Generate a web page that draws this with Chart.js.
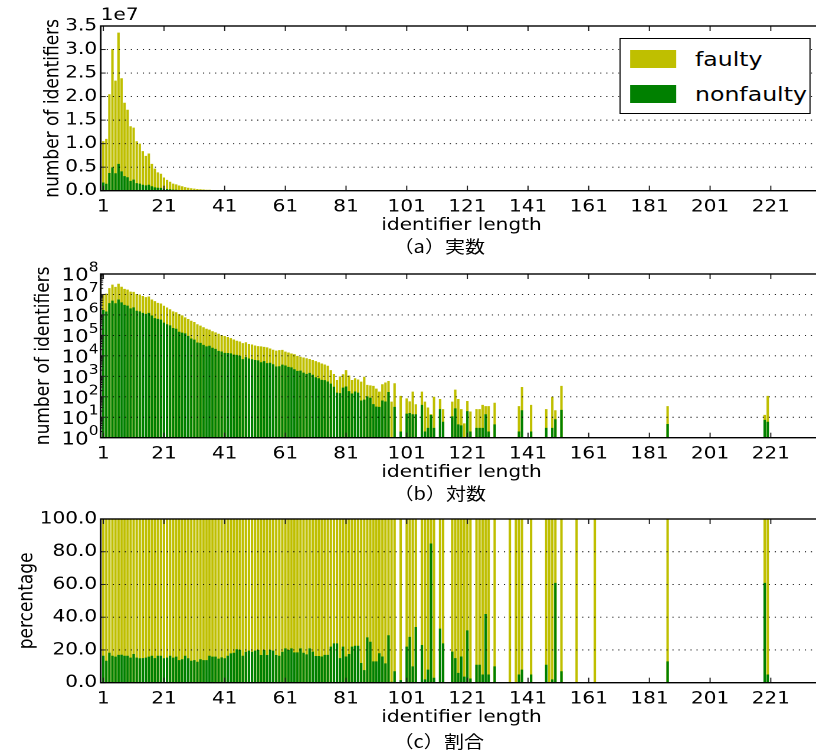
<!DOCTYPE html>
<html lang="ja">
<head>
    <meta charset="UTF-8">
    <title>identifier length</title>
    <script src="https://cdn.jsdelivr.net/npm/chart.js"></script>
    <style>
        * {
            margin: 0;
            padding: 0;
            box-sizing: border-box;
        }

        html, body {
            width: 816px;
            height: 753px;
            overflow: hidden;
            background: #fff;
        }

        /* the figure is stretched sideways, so everything is laid out narrow and scaled */
        .stage {
            position: absolute;
            left: 0;
            top: 0;
            width: 705px;
            height: 753px;
            transform: scaleX(1.18);
            transform-origin: 0 0;
            font-family: 'DejaVu Sans', sans-serif;
        }

        .stage canvas {
            position: absolute;
            left: 0;
        }

        .caption {
            position: absolute;
            left: 333.5px;
            font-family: 'Noto Sans CJK JP', sans-serif;
            font-size: 17px;
            line-height: 20px;
            color: #000;
            white-space: nowrap;
        }

        .legend {
            position: absolute;
            left: 524.6px;
            top: 38px;
            width: 162.7px;
            height: 76px;
            border: 1.4px solid #000;
            background: #fff;
        }

        .legend .item {
            position: absolute;
            left: 8px;
            height: 24px;
            font-size: 20px;
            line-height: 24px;
            white-space: nowrap;
        }

        .legend .swatch {
            display: inline-block;
            width: 39.8px;
            height: 18px;
            vertical-align: -2px;
            margin-right: 15.6px;
        }
    </style>
</head>
<body>
    <div class="stage">
        <canvas id="chartA" width="705" height="236" style="top:0"></canvas>
        <canvas id="chartB" width="705" height="231" style="top:252px"></canvas>
        <canvas id="chartC" width="705" height="228" style="top:500px"></canvas>
        <div class="legend" id="legend"></div>
        <div class="caption" style="top:236px">（a）実数</div>
        <div class="caption" style="top:483px">（b）対数</div>
        <div class="caption" style="top:731px">（c）割合</div>
    </div>

    <script>
        const lengths = [
            1, 2, 3, 4, 5, 6, 7, 8, 9, 10, 11, 12, 13, 14, 15, 16, 17, 18, 19, 20,
            21, 22, 23, 24, 25, 26, 27, 28, 29, 30, 31, 32, 33, 34, 35, 36, 37, 38, 39, 40,
            41, 42, 43, 44, 45, 46, 47, 48, 49, 50, 51, 52, 53, 54, 55, 56, 57, 58, 59, 60,
            61, 62, 63, 64, 65, 66, 67, 68, 69, 70, 71, 72, 73, 74, 75, 76, 77, 78, 79, 80,
            81, 82, 83, 84, 85, 86, 87, 88, 89, 90, 91, 92, 93, 94, 95, 96, 97, 99,
            101, 102, 103, 104, 106, 107, 108, 109, 110, 112, 113, 116, 117, 118, 119, 120,
            121, 122, 124, 125, 126, 127, 128, 130, 135, 137, 138, 139, 142, 147, 148, 149,
            150, 152, 157, 163, 187, 219, 220
        ];

        // all identifiers of each length (top of the yellow bar)
        const totalCount = [
            1.05e7, 1.10e7, 2.05e7, 3.01e7, 2.34e7, 3.36e7, 2.39e7, 1.87e7, 1.72e7, 1.37e7,
            1.34e7, 1.05e7, 1.00e7, 8.4e6, 7.4e6, 7.9e6, 5.7e6, 4.7e6, 3.9e6, 3.6e6,
            2.8e6, 2.3e6, 1.9e6, 1.5e6, 1.35e6, 1.1e6, 9.5e5, 7.6e5, 6.3e5, 5.2e5,
            4.5e5, 3.5e5, 3.0e5, 2.5e5, 2.1e5, 1.9e5, 1.6e5, 1.4e5, 1.2e5, 1.05e5,
            9.3e4, 8.3e4, 7.4e4, 6.3e4, 5.5e4, 5.0e4, 4.2e4, 4.6e4, 3.8e4, 3.6e4,
            3.2e4, 3.0e4, 2.9e4, 2.75e4, 2.6e4, 2.3e4, 2.0e4, 1.8e4, 1.9e4, 1.95e4,
            1.6e4, 1.45e4, 1.3e4, 1.2e4, 1.0e4, 9100, 8300, 7600, 7000, 6300,
            5500, 4900, 4200, 3800, 3300, 2000, 1300, 660, 1000, 1260,
            2000, 1100, 660, 800, 700, 550, 950, 380, 360, 340,
            250, 178, 410, 500, 590, 58, 457, 110,
            84, 60, 178, 43, 178, 58, 30, 14, 100, 78, 25, 58, 224, 78, 25, 5,
            62, 19, 25, 25, 40, 35, 35, 51, 1, 1, 35, 302, 40, 25, 1, 100,
            22, 340, 1, 1, 35, 13, 110
        ];

        // non-faulty identifiers of each length (top of the green bar)
        const nonfaultyCount = [
            1.73e6, 1.47e6, 3.75e6, 4.97e6, 3.72e6, 5.7e6, 4.1e6, 3.1e6, 2.85e6, 2.1e6,
            2.35e6, 1.6e6, 1.5e6, 1.26e6, 1.13e6, 1.26e6, 9.4e5, 7.0e5, 6.4e5, 5.9e5,
            4.2e5, 3.5e5, 3.1e5, 2.3e5, 2.1e5, 1.5e5, 1.36e5, 1.25e5, 9.4e4, 7.0e4,
            6.2e4, 4.5e4, 4.3e4, 3.45e4, 2.9e4, 3.1e4, 2.5e4, 2.2e4, 1.76e4, 1.63e4,
            1.39e4, 1.37e4, 1.32e4, 1.15e4, 1.12e4, 1.0e4, 6900, 8700, 7400, 6800,
            6300, 6000, 4900, 5500, 4400, 4600, 3900, 3000, 3100, 3700,
            3360, 2900, 2730, 2220, 1850, 1900, 1520, 1310, 1470, 1200,
            900, 800, 670, 650, 560, 440, 310, 160, 150, 280,
            320, 190, 145, 180, 160, 66, 73, 105, 90, 44,
            33, 32, 66, 59, 171, 1, 32, 2,
            15, 16, 14, 14, 40, 2, 3, 13, 3, 25, 6, 11, 27, 4.5, 4, 0,
            20, 2, 3, 3, 3, 14, 2, 4.5, 0, 0, 2, 22, 2, 3, 0, 3,
            8, 23, 0, 0, 4.7, 7.4, 6
        ];

        // share of non-faulty identifiers, in percent
        const nonfaultyPct = [
            16.5, 13.4, 18.3, 16.5, 15.9, 17.0, 17.1, 16.5, 16.5, 15.3,
            17.5, 15.3, 14.9, 15.0, 15.3, 15.9, 16.5, 15.0, 16.5, 16.5,
            14.9, 15.3, 16.5, 15.3, 15.9, 13.8, 14.3, 16.5, 14.9, 13.4,
            13.8, 12.8, 14.3, 13.8, 13.8, 16.5, 15.9, 15.9, 14.7, 15.5,
            14.9, 16.5, 17.9, 18.3, 20.4, 20.0, 16.5, 18.9, 19.6, 18.9,
            19.6, 20.0, 16.9, 20.0, 16.9, 20.0, 19.6, 16.9, 16.5, 18.9,
            21.0, 20.0, 21.0, 18.5, 18.5, 21.0, 18.3, 17.3, 21.0, 19.0,
            16.3, 16.3, 16.0, 17.0, 17.0, 22.0, 24.0, 24.0, 15.0, 22.0,
            16.0, 17.5, 22.0, 22.6, 22.6, 12.0, 7.7, 27.7, 25.0, 13.0,
            13.0, 18.0, 16.0, 11.8, 29.0, 0.6, 7.0, 1.6,
            22, 28, 10, 34, 23, 2, 8, 85, 3, 33, 24, 19, 15, 6, 16, 3.7,
            32, 2.6, 11, 11, 5, 42, 5, 10, 0, 0, 5, 8, 5, 11, 0, 2,
            61, 7, 0, 0, 13, 61, 5
        ];

        const xTicks = [1, 21, 41, 61, 81, 101, 121, 141, 161, 181, 201, 221];
        const countTicks = [0, 5e6, 1e7, 1.5e7, 2e7, 2.5e7, 3e7, 3.5e7];
        const logTicks = [1, 10, 100, 1e3, 1e4, 1e5, 1e6, 1e7, 1e8];
        const pctTicks = [0, 20, 40, 60, 80, 100];

        const YELLOW = '#bfbf00';
        const GREEN = '#008000';

        const PLOT_LEFT = 85.34;   // 100.7px after stretching
        const PLOT_RIGHT = 696.9;  // past the right edge of the window

        Chart.defaults.font.family = "'DejaVu Sans', sans-serif";
        Chart.defaults.font.size = 17;
        Chart.defaults.color = '#000';

        const points = values => lengths.map((x, i) => ({ x: x, y: values[i] }));

        // spines, inward tick marks and the dotted grid, drawn over the bars like matplotlib
        const framePlugin = {
            id: 'frame',
            afterDatasetsDraw(chart, args, opts) {
                const ctx = chart.ctx;
                const a = chart.chartArea;
                const x = chart.scales.x;
                const y = chart.scales.y;
                const line = (x1, y1, x2, y2) => {
                    ctx.beginPath();
                    ctx.moveTo(x1, y1);
                    ctx.lineTo(x2, y2);
                    ctx.stroke();
                };
                ctx.save();

                ctx.strokeStyle = '#000';
                ctx.lineWidth = 0.9;
                ctx.setLineDash([1, 4.1]);
                y.ticks.forEach(t => {
                    const py = y.getPixelForValue(t.value);
                    if (py > a.top + 1 && py < a.bottom - 1) line(a.left, py, a.right, py);
                });
                ctx.setLineDash([]);

                ctx.strokeStyle = '#222';
                ctx.lineWidth = 1;
                x.ticks.forEach(t => {
                    const px = x.getPixelForValue(t.value);
                    line(px, a.bottom, px, a.bottom - 5);
                    line(px, a.top, px, a.top + 5);
                });
                y.ticks.forEach(t => {
                    const py = y.getPixelForValue(t.value);
                    line(a.left, py, a.left + 4.2, py);
                    line(a.right, py, a.right - 4.2, py);
                });
                if (opts.log) {
                    for (let e = 0; e < 8; e++) {
                        for (let d = 2; d < 10; d++) {
                            const py = y.getPixelForValue(d * Math.pow(10, e));
                            line(a.left, py, a.left + 2.2, py);
                        }
                    }
                    // powers of ten with a raised exponent
                    ctx.fillStyle = '#000';
                    ctx.textBaseline = 'alphabetic';
                    y.ticks.forEach(t => {
                        const py = y.getPixelForValue(t.value);
                        const exp = String(Math.round(Math.log10(t.value)));
                        ctx.font = "13px 'DejaVu Sans'";
                        ctx.textAlign = 'right';
                        ctx.fillText(exp, a.left - 1.8, py - 2.5);
                        const w = ctx.measureText(exp).width;
                        ctx.font = "18px 'DejaVu Sans'";
                        ctx.fillText('10', a.left - 2 - w, py + 6.6);
                    });
                }

                ctx.strokeStyle = '#000';
                ctx.lineWidth = 1.4;
                ctx.strokeRect(a.left, a.top, a.right - a.left, a.bottom - a.top);

                if (opts.offsetText) {
                    ctx.fillStyle = '#000';
                    ctx.font = "17px 'DejaVu Sans'";
                    ctx.textAlign = 'left';
                    ctx.textBaseline = 'bottom';
                    ctx.fillText(opts.offsetText, a.left, a.top - 2);
                }
                ctx.restore();
            }
        };

        function makePanel(id, cfg) {
            return new Chart(document.getElementById(id), {
                type: 'bar',
                data: {
                    datasets: [
                        { label: 'faulty', data: cfg.faulty, backgroundColor: YELLOW, order: 1 },
                        { label: 'nonfaulty', data: cfg.nonfaulty, backgroundColor: GREEN, order: 0 }
                    ]
                },
                options: {
                    responsive: false,
                    animation: false,
                    devicePixelRatio: 2,
                    layout: {
                        padding: { top: cfg.top, left: cfg.titleLeft, right: 705 - PLOT_RIGHT, bottom: 0 }
                    },
                    datasets: {
                        bar: { barPercentage: 0.8, categoryPercentage: 1, borderWidth: 0 }
                    },
                    plugins: {
                        legend: { display: false },
                        tooltip: { enabled: false },
                        frame: { log: cfg.log, offsetText: cfg.offsetText }
                    },
                    scales: {
                        x: {
                            type: 'linear',
                            min: 0.14,
                            max: 238,
                            offset: false,
                            stacked: true,
                            grid: { display: false, drawTicks: false },
                            border: { display: false },
                            afterBuildTicks: s => { s.ticks = xTicks.map(v => ({ value: v })); },
                            afterFit: s => { s.height = cfg.height - cfg.bottom; },
                            ticks: { padding: 6, autoSkip: false, maxRotation: 0 },
                            title: { display: true, text: 'identifier length', padding: 0 }
                        },
                        y: {
                            type: cfg.yType,
                            min: cfg.yMin,
                            max: cfg.yMax,
                            stacked: false,
                            grid: { display: false, drawTicks: false },
                            border: { display: false },
                            afterBuildTicks: s => { s.ticks = cfg.yTicks.map(v => ({ value: v })); },
                            afterFit: s => { s.width = PLOT_LEFT - cfg.titleLeft; },
                            ticks: { padding: 3, autoSkip: false, callback: cfg.yLabel },
                            title: { display: true, text: cfg.yTitle, padding: 0 }
                        }
                    }
                },
                plugins: [framePlugin]
            });
        }

        const chartA = makePanel('chartA', {
            faulty: points(totalCount),
            nonfaulty: points(nonfaultyCount),
            top: 26, bottom: 190.7, height: 236, titleLeft: 34.7,
            yType: 'linear', yMin: 0, yMax: 3.5e7, yTicks: countTicks,
            yLabel: v => (v / 1e7).toFixed(1),
            yTitle: 'number of identifiers',
            offsetText: '1e7'
        });

        // log labels are drawn by the frame plugin
        makePanel('chartB', {
            faulty: points(totalCount),
            nonfaulty: points(nonfaultyCount),
            top: 22, bottom: 185.7, height: 231, titleLeft: 27.1,
            yType: 'logarithmic', yMin: 1, yMax: 1e8, yTicks: logTicks,
            yLabel: () => '',
            yTitle: 'number of identifiers',
            log: true
        });

        makePanel('chartC', {
            faulty: lengths.map(x => ({ x: x, y: 100 })),
            nonfaulty: points(nonfaultyPct),
            top: 19, bottom: 182.7, height: 228, titleLeft: 12.7,
            yType: 'linear', yMin: 0, yMax: 100, yTicks: pctTicks,
            yLabel: v => v.toFixed(1),
            yTitle: 'percentage'
        });

        // legend box in the upper right of panel (a)
        const legend = document.getElementById('legend');
        chartA.data.datasets.forEach((ds, i) => {
            const item = document.createElement('div');
            item.className = 'item';
            item.style.top = (8 + i * 35) + 'px';
            item.innerHTML = '<span class="swatch" style="background:' + ds.backgroundColor + '"></span>' + ds.label;
            legend.appendChild(item);
        });
    </script>
</body>
</html>
